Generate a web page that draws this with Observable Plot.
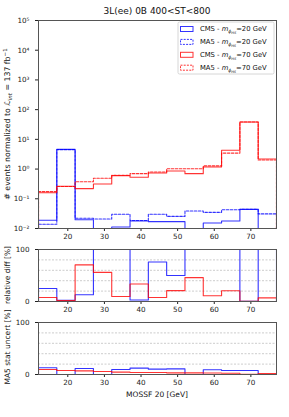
<!DOCTYPE html>
<html>
<head>
<meta charset="utf-8">
<script src="https://cdn.jsdelivr.net/npm/d3@7"></script>
<script src="https://cdn.jsdelivr.net/npm/@observablehq/plot@0.6"></script>
<style>
  html, body { margin: 0; padding: 0; background: white; }
  #chart { position: relative; width: 289px; height: 417px; font-family: "DejaVu Sans", sans-serif; }
  #chart svg.p { position: absolute; left: 0; }
</style>
</head>
<body>
<div id="chart"></div>
<script>
// ---- data ----
const binEdges = [12, 17, 22, 27, 32, 37, 42, 47, 52, 57, 62, 67, 72, 77];
const xTicks = [20, 30, 40, 50, 60, 70];
const yTicksLog = [1e-2, 1e-1, 1e0, 1e1, 1e2, 1e3, 1e4, 1e5];

const cms20 = [0.0189, 4.6, 0.0198, 0, 0.0112, 0.0179, 0.017, 0.017, 0, 0.0153, 0.0179, 0.044, 0];
const ma520 = [0.0139, 4.5, 0.0222, 0.021, 0.030, 0.0185, 0.030, 0.0255, 0.039, 0.035, 0.043, 0.0442, 0.031];
const cms70 = [0.16, 0.263, 0.22, 0.316, 0.60, 0.53, 0.74, 0.86, 0.70, 1.17, 4.3, 38.5, 2.19];
const ma570 = [0.174, 0.258, 0.375, 0.49, 0.62, 0.70, 0.80, 1.03, 1.02, 1.28, 3.45, 38.6, 2.03];

const relDiff20 = [25, 2.5, 13, 150, 150, 3, 76, 50, 150, 130, 140, 0.5, 150];
const relDiff70 = [7.7, 2, 70.4, 56, 9.7, 33.6, 7.7, 21, 46, 11, 20.7, 0.3, 7];

const statUnc20 = [12.9, 0, 11.6, 0, 9.7, 12.2, 10.3, 10.9, 0, 9, 7.7, 7.7, 0];
const statUnc70 = [9.7, 7.7, 7, 5.8, 4.5, 3.9, 3.9, 3.2, 3.2, 3, 2.5, 0.6, 2];

// step outline like a matplotlib "step" histogram
function steps(vals, floor) {
  const pts = [{x: binEdges[0], y: floor}];
  vals.forEach((v, i) => pts.push({x: binEdges[i], y: v > 0 ? v : floor}));
  const last = vals[vals.length - 1];
  pts.push({x: binEdges[binEdges.length - 1], y: last > 0 ? last : floor});
  pts.push({x: binEdges[binEdges.length - 1], y: floor});
  return pts;
}

const BLUE = "#0000ff", RED = "#ff0000";
const font = {fontFamily: "DejaVu Sans, sans-serif", fontSize: "7.2px", background: "transparent", overflow: "visible", color: "#222"};
const xDom = [binEdges[0], binEdges[binEdges.length - 1]];
const ML = 38, MR = 13;
const sup = {"-": "\u207B", "0": "\u2070", "1": "\u00B9", "2": "\u00B2", "3": "\u00B3", "4": "\u2074", "5": "\u2075"};
const fmtLog = d => "10" + String(Math.round(Math.log10(d))).split("").map(c => sup[c]).join("");

function lineMark(vals, floor, color, dashed) {
  return Plot.line(steps(vals, floor), {
    x: "x", y: "y", curve: "step-after", stroke: color, strokeWidth: 1.1,
    strokeOpacity: 0.8, strokeDasharray: dashed ? "2.5,1.5" : null, clip: true
  });
}

// ---- main panel ----
const p1 = Plot.plot({
  width: 289, height: 240, marginTop: 20, marginBottom: 12, marginLeft: ML, marginRight: MR,
  style: font,
  x: {domain: xDom, ticks: xTicks, tickSize: 3, tickPadding: 2, label: null},
  y: {type: "log", domain: [1e-2, 1e5], ticks: yTicksLog, tickFormat: fmtLog, tickSize: 3, label: null},
  marks: [
    lineMark(cms20, 1e-4, BLUE, false),
    lineMark(ma520, 1e-4, BLUE, true),
    lineMark(cms70, 1e-4, RED, false),
    lineMark(ma570, 1e-4, RED, true),
    Plot.frame({stroke: "#555", strokeWidth: 1})
  ]
});

function ratioPlot(v20, v70) {
  return Plot.plot({
    width: 289, height: 92, marginTop: 20, marginBottom: 20, marginLeft: ML, marginRight: MR,
    style: font,
    x: {domain: xDom, ticks: xTicks, tickSize: 3, tickPadding: 2, label: null},
    y: {domain: [0, 100], ticks: [0, 100], tickSize: 3, label: null},
    marks: [
      Plot.gridY([20, 40, 60, 80], {stroke: "#aaa", strokeOpacity: 1, strokeWidth: 0.6, strokeDasharray: "2,1.5"}),
      lineMark(v20, 0, BLUE, false),
      lineMark(v70, 0, RED, false),
      Plot.frame({stroke: "#555", strokeWidth: 1})
    ]
  });
}
const p2 = ratioPlot(relDiff20, relDiff70);
const p3 = ratioPlot(statUnc20, statUnc70);

const chart = document.getElementById("chart");
[[p1, 0], [p2, 229], [p3, 302]].forEach(([svg, top]) => {
  svg.classList.add("p");
  svg.style.top = top + "px";
  chart.appendChild(svg);
});

// ---- annotations overlay ----
const ov = d3.select(chart).append("svg")
  .attr("width", 289).attr("height", 417)
  .style("position", "absolute").style("left", 0).style("top", 0)
  .style("font-family", "DejaVu Sans, sans-serif").style("pointer-events", "none");

ov.append("text").attr("x", 157).attr("y", 14).attr("text-anchor", "middle")
  .attr("font-size", 9).attr("fill", "#111").text("3L(ee) 0B 400<ST<800");

const yl = ov.append("text").attr("transform", "translate(10,124) rotate(-90)")
  .attr("text-anchor", "middle").attr("font-size", 7.8).attr("fill", "#111");
yl.append("tspan").text("# events normalized to ");
yl.append("tspan").attr("font-style", "italic").text("\u2112");
yl.append("tspan").attr("font-size", 5.5).attr("dy", 1.5).attr("font-style", "italic").text("int");
yl.append("tspan").attr("dy", -1.5).text(" = 137 fb");
yl.append("tspan").attr("font-size", 5.5).attr("dy", -3).text("\u22121");

ov.append("text").attr("transform", "translate(10,275) rotate(-90)")
  .attr("text-anchor", "middle").attr("font-size", 7.5).attr("fill", "#111").text("relative diff [%]");
ov.append("text").attr("transform", "translate(10,347) rotate(-90)")
  .attr("text-anchor", "middle").attr("font-size", 7.5).attr("fill", "#111").text("MA5 stat uncert [%]");
ov.append("text").attr("x", 157).attr("y", 397).attr("text-anchor", "middle")
  .attr("font-size", 7.5).attr("fill", "#111").text("MOSSF 20 [GeV]");

// legend
const lg = ov.append("g");
lg.append("rect").attr("x", 178).attr("y", 22).attr("width", 96).attr("height", 52).attr("rx", 1.5)
  .attr("fill", "white").attr("fill-opacity", 0.85).attr("stroke", "#ccc").attr("stroke-width", 0.8);
const legendItems = [
  {src: "CMS", mass: "20", color: BLUE, dashed: false},
  {src: "MA5", mass: "20", color: BLUE, dashed: true},
  {src: "CMS", mass: "70", color: RED, dashed: false},
  {src: "MA5", mass: "70", color: RED, dashed: true}
];
legendItems.forEach((d, i) => {
  const y = 29 + i * 12.9;
  lg.append("rect").attr("x", 180.5).attr("y", y - 2.5).attr("width", 12.5).attr("height", 5)
    .attr("fill", "none").attr("stroke", d.color).attr("stroke-opacity", 0.8).attr("stroke-width", 1)
    .attr("stroke-dasharray", d.dashed ? "2,1.2" : null);
  const t = lg.append("text").attr("x", 200).attr("y", y + 2.4).attr("font-size", 6.8).attr("fill", "#111");
  t.append("tspan").text(d.src + " - ");
  t.append("tspan").attr("font-style", "italic").text("m");
  t.append("tspan").attr("font-size", 4.5).attr("dy", 1.5).attr("font-style", "italic").text("\u03D5");
  t.append("tspan").attr("font-size", 3.5).attr("dy", 1).attr("font-style", "italic").text("HS");
  t.append("tspan").attr("dy", -2.5).text("=" + d.mass + " GeV");
});
</script>
</body>
</html>
